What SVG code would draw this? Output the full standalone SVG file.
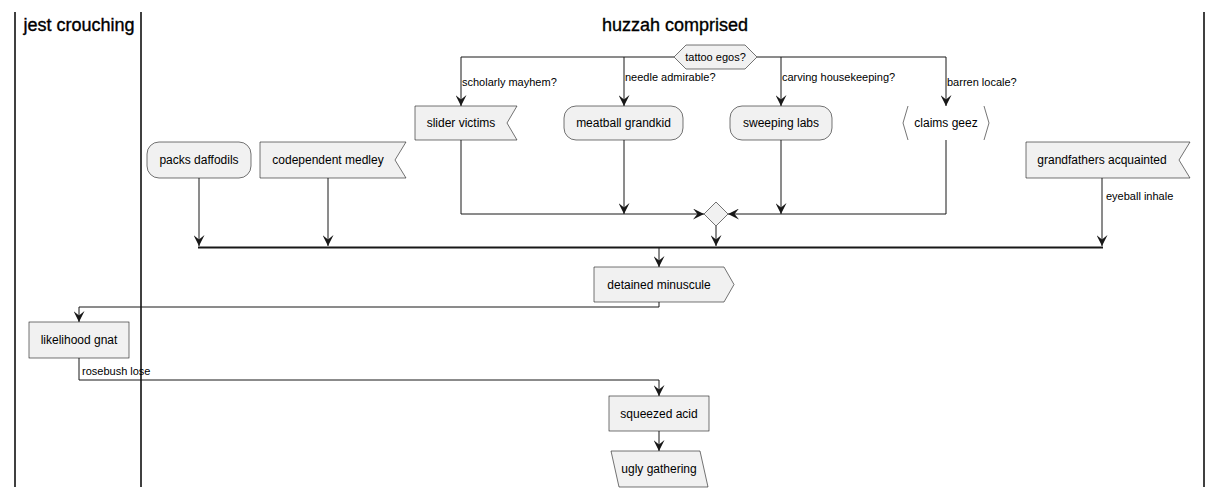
<svg xmlns="http://www.w3.org/2000/svg" width="1222" height="497" viewBox="0 0 1222 497">
<style>
.n{fill:#F1F1F1;stroke:#181818;stroke-width:0.6}
.t{font-family:"Liberation Sans",Arial,sans-serif;font-size:12px;fill:#000}
.l{font-family:"Liberation Sans",Arial,sans-serif;font-size:11px;fill:#000}
.h{font-family:"Liberation Sans",Arial,sans-serif;font-size:18px;fill:#000;stroke:#000;stroke-width:0.35}
.c{fill:none;stroke:#181818;stroke-width:1}
.lane{stroke:#000;stroke-width:1.5}
</style>
<defs>
<marker id="a" viewBox="0 0 10 10" refX="10" refY="5" markerWidth="11" markerHeight="11" markerUnits="userSpaceOnUse" orient="auto">
<path d="M0,0 L10,5 L0,10 L4,5 Z" fill="#181818"/>
</marker>
</defs>
<rect width="1222" height="497" fill="#fff"/>
<g id="lanes">
<line class="lane" x1="15" y1="12" x2="15" y2="487"/>
<line class="lane" x1="141" y1="12" x2="141" y2="487"/>
<line class="lane" x1="1204" y1="12" x2="1204" y2="487"/>
<text class="h" x="79" y="31" text-anchor="middle">jest crouching</text>
<text class="h" x="675" y="31" text-anchor="middle">huzzah comprised</text>
</g>
<g id="connectors">
<polyline class="c" points="674,57 461,57 461,106" marker-end="url(#a)"/>
<line class="c" x1="624" y1="57" x2="624" y2="106" marker-end="url(#a)"/>
<line class="c" x1="781" y1="57" x2="781" y2="106" marker-end="url(#a)"/>
<polyline class="c" points="757,57 946,57 946,106" marker-end="url(#a)"/>
<text class="l" x="462" y="86">scholarly mayhem?</text>
<text class="l" x="625" y="81">needle admirable?</text>
<text class="l" x="782" y="81">carving housekeeping?</text>
<text class="l" x="947" y="86">barren locale?</text>
<polyline class="c" points="461,140 461,214 704,214" marker-end="url(#a)"/>
<line class="c" x1="624" y1="140" x2="624" y2="214" marker-end="url(#a)"/>
<line class="c" x1="781" y1="140" x2="781" y2="214" marker-end="url(#a)"/>
<polyline class="c" points="946,140 946,214 728,214" marker-end="url(#a)"/>
<line class="c" x1="716" y1="226" x2="716" y2="246" marker-end="url(#a)"/>
<line class="c" x1="199" y1="178" x2="199" y2="246" marker-end="url(#a)"/>
<line class="c" x1="328" y1="178" x2="328" y2="246" marker-end="url(#a)"/>
<line class="c" x1="1102" y1="178" x2="1102" y2="246" marker-end="url(#a)"/>
<text class="l" x="1106" y="200">eyeball inhale</text>
<line x1="198" y1="247.5" x2="1103" y2="247.5" stroke="#181818" stroke-width="2"/>
<line class="c" x1="659" y1="248" x2="659" y2="267" marker-end="url(#a)"/>
<polyline class="c" points="659,302 659,307 79,307 79,322" marker-end="url(#a)"/>
<polyline class="c" points="79,358 79,380 659,380 659,396" marker-end="url(#a)"/>
<text class="l" x="82" y="375">rosebush lose</text>
<line class="c" x1="659" y1="431" x2="659" y2="451" marker-end="url(#a)"/>
</g>
<g id="decision">
<polygon class="n" points="674,57 686,45 745,45 757,57 745,69 686,69"/>
<text class="l" x="715.5" y="61" text-anchor="middle">tattoo egos?</text>
</g>
<g id="merge">
<polygon class="n" points="716,202 728,214 716,226 704,214"/>
</g>
<g id="slider-victims">
<polygon class="n" points="415,106 517,106 507,123 517,140 415,140"/>
<text class="t" x="461" y="127" text-anchor="middle">slider victims</text>
</g>
<g id="meatball-grandkid">
<rect class="n" x="564" y="106" width="119" height="34" rx="12"/>
<text class="t" x="623.5" y="127" text-anchor="middle">meatball grandkid</text>
</g>
<g id="sweeping-labs">
<rect class="n" x="730" y="106" width="102" height="34" rx="12"/>
<text class="t" x="781" y="127" text-anchor="middle">sweeping labs</text>
</g>
<g id="claims-geez">
<polyline fill="none" stroke="#181818" stroke-width="0.6" points="908,106 903,123 908,140"/>
<polyline fill="none" stroke="#181818" stroke-width="0.6" points="984,106 989,123 984,140"/>
<text class="t" x="946" y="127" text-anchor="middle">claims geez</text>
</g>
<g id="packs-daffodils">
<rect class="n" x="147" y="142" width="104" height="36" rx="12"/>
<text class="t" x="199" y="164" text-anchor="middle">packs daffodils</text>
</g>
<g id="codependent-medley">
<polygon class="n" points="260,142 406,142 395,160 406,178 260,178"/>
<text class="t" x="328" y="164" text-anchor="middle">codependent medley</text>
</g>
<g id="grandfathers-acquainted">
<polygon class="n" points="1026,142 1190,142 1179,160 1190,178 1026,178"/>
<text class="t" x="1102" y="164" text-anchor="middle">grandfathers acquainted</text>
</g>
<g id="detained-minuscule">
<polygon class="n" points="594,267 724,267 734,284.5 724,302 594,302"/>
<text class="t" x="659" y="289" text-anchor="middle">detained minuscule</text>
</g>
<g id="likelihood-gnat">
<rect class="n" x="29" y="322" width="100" height="36"/>
<text class="t" x="79" y="344" text-anchor="middle">likelihood gnat</text>
</g>
<g id="squeezed-acid">
<rect class="n" x="609" y="396" width="100" height="35"/>
<text class="t" x="659" y="418" text-anchor="middle">squeezed acid</text>
</g>
<g id="ugly-gathering">
<polygon class="n" points="611,451 700,451 708,487 619,487"/>
<text class="t" x="659" y="473" text-anchor="middle">ugly gathering</text>
</g>
</svg>
